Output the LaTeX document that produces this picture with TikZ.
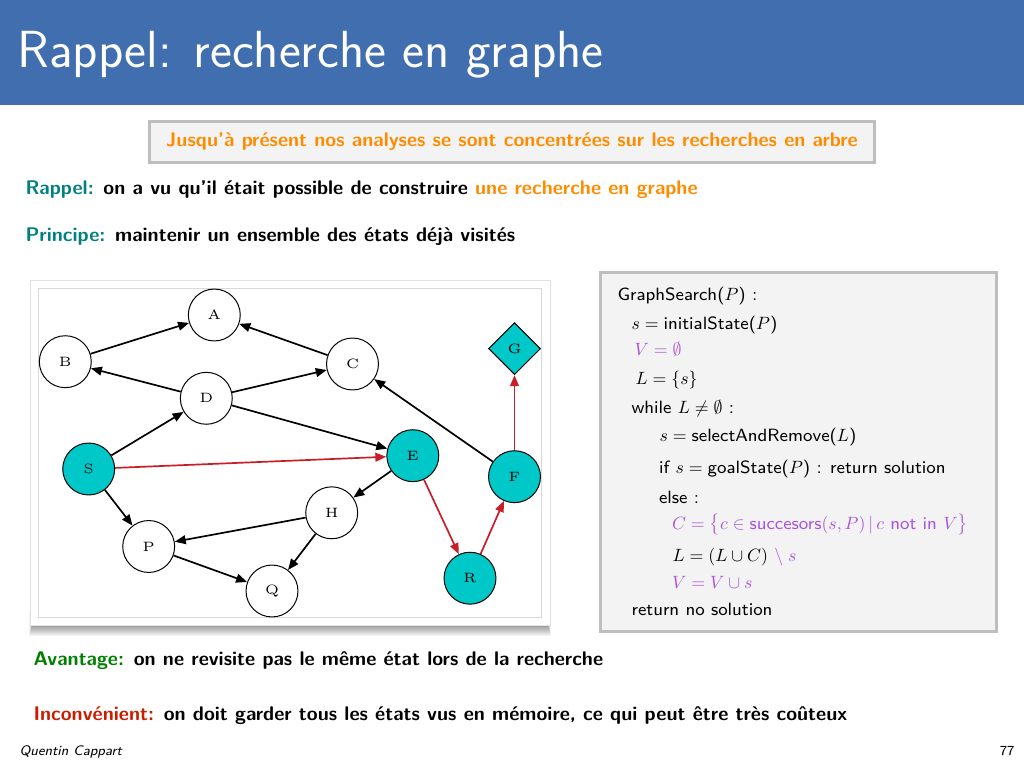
\documentclass[tikz,border=0pt]{standalone}
\usepackage{amsmath}
\usetikzlibrary{arrows.meta,shapes.geometric}

% math glyphs: use the 10pt designs at every size
\DeclareFontShape{OML}{cmm}{m}{it}{<-> cmmi10}{}
\DeclareFontShape{OMS}{cmsy}{m}{n}{<-> cmsy10}{}
\DeclareFontShape{OMX}{cmex}{m}{n}{<-> cmex10}{}
\DeclareFontShape{OT1}{cmr}{m}{n}{<-> cmr10}{}

\definecolor{titleblue}{RGB}{64,110,174}
\definecolor{hlorange}{RGB}{255,140,0}
\definecolor{hlteal}{RGB}{0,128,128}
\definecolor{hlgreen}{RGB}{0,128,0}
\definecolor{hlred}{RGB}{200,30,0}
\definecolor{hlpurple}{RGB}{170,85,220}
\definecolor{nodecyan}{RGB}{0,200,200}
\definecolor{edgered}{RGB}{200,30,40}
\definecolor{panelfill}{RGB}{243,243,243}
\definecolor{panelline}{RGB}{190,190,190}

\tikzset{
  textline/.style={anchor=base west, inner sep=0pt},
  bodytext/.style={textline, font=\fontsize{7.0}{9}\sffamily\bfseries},
  algotext/.style={textline, font=\fontsize{6.3}{8}\sffamily},
  state/.style={circle, draw, line width=0.35pt, minimum size=18.4pt, inner sep=0pt,
    font=\fontsize{4.8}{5}\rmfamily},
  visited/.style={state, fill=nodecyan},
  goal/.style={diamond, draw, line width=0.35pt, fill=nodecyan, aspect=1,
    minimum width=18.4pt, minimum height=18.4pt, inner sep=0pt, font=\fontsize{4.8}{5}\rmfamily},
  link/.style={line width=0.6pt, -{Triangle[length=3.9pt,width=3.1pt]}},
  pathlink/.style={link, draw=edgered, color=edgered},
}

\begin{document}
\begin{tikzpicture}[x=0.35433pt, y=-0.35433pt]
\useasboundingbox (0,0) rectangle (1024,768);

% header band
\fill[titleblue] (0,0) rectangle (1024,105);
\node[textline, text=white, font=\fontsize{18.5}{21}\sffamily] (title) at (17,68)
  {Rappel: recherche en graphe};

% framed remark
\node[draw=panelline, line width=1.06pt, fill=panelfill, minimum width=257pt,
  minimum height=14.5pt, inner sep=0pt, text=hlorange, font=\fontsize{7.0}{9}\sffamily\bfseries]
  (remark) at (512,142) {Jusqu'\`a pr\'esent nos analyses se sont concentr\'ees sur les recherches en arbre};

\node[bodytext] (rappel) at (25,195)
  {\textcolor{hlteal}{Rappel:} on a vu qu'il \'etait possible de construire \textcolor{hlorange}{une recherche en graphe}};
\node[bodytext] (principe) at (25,242)
  {\textcolor{hlteal}{Principe:} maintenir un ensemble des \'etats d\'ej\`a visit\'es};

% picture frame with drop shadow
\foreach \k in {1,...,10}
  \fill[black, opacity=0.045] (29+0.3*\k,612) rectangle (551-0.3*\k,637-\k);
\draw[black!12, fill=white, line width=0.35pt] (30,280) rectangle (550,625);
\draw[black!15, line width=0.35pt] (38,288) rectangle (541,617);

% state graph
\node[state]   (A) at (214.3,315) {A};
\node[state]   (B) at (65.3,361.7) {B};
\node[state]   (C) at (352.5,364) {C};
\node[state]   (D) at (206.3,398.3) {D};
\node[visited] (S) at (88.7,469) {S};
\node[visited] (E) at (412.8,455.7) {E};
\node[goal]    (G) at (514.5,348.7) {G};
\node[visited] (F) at (514.5,476.7) {F};
\node[state]   (H) at (331.7,512.8) {H};
\node[state]   (P) at (148.7,546.5) {P};
\node[state]   (Q) at (272,591) {Q};
\node[visited] (R) at (470,578.2) {R};

\draw[link] (B) -- (A);
\draw[link] (C) -- (A);
\draw[link] (D) -- (B);
\draw[link] (D) -- (C);
\draw[link] (D) -- (E);
\draw[link] (S) -- (D);
\draw[link] (S) -- (P);
\draw[link] (F) -- (C);
\draw[link] (E) -- (H);
\draw[link] (H) -- (P);
\draw[link] (H) -- (Q);
\draw[link] (P) -- (Q);
\draw[pathlink] (S) -- (E);
\draw[pathlink] (E) -- (R);
\draw[pathlink] (R) -- (F);
\draw[pathlink] (F) -- (G);

% algorithm panel
\draw[draw=panelline, fill=panelfill, line width=1.06pt] (600.5,272.8) rectangle (996.8,631.8);
\node[algotext] (l1) at (617,301) {GraphSearch($P$) :};
\node[algotext] (l2) at (631,330) {$s = {}$initialState($P$)};
\node[algotext, text=hlpurple] (l3) at (634,355.5) {$V = \emptyset$};
\node[algotext] (l4) at (635,385) {$L = \{s\}$};
\node[algotext] (l5) at (631,414) {while $L \neq \emptyset$ :};
\node[algotext] (l6) at (659,442) {$s = {}$selectAndRemove($L$)};
\node[algotext] (l7) at (658.5,473.5) {if $s = {}$goalState($P$) : return solution};
\node[algotext] (l8) at (658.5,503.5) {else :};
\node[algotext, text=hlpurple] (l9) at (671.5,529)
  {$C = \bigl\{c \in \mbox{succesors}(s,P)\,|\,c\mbox{ not in }V\bigr\}$};
\node[algotext] (l10) at (672,561.5) {$L = (L \cup C)$ \textcolor{hlpurple}{$\setminus\; s$}};
\node[algotext, text=hlpurple] (l11) at (671.5,588.5) {$V = V \cup s$};
\node[algotext] (l12) at (631,615.5) {return no solution};

% advantages and drawbacks
\node[bodytext] (avantage) at (33,665)
  {\textcolor{hlgreen}{Avantage:} on ne revisite pas le m\^eme \'etat lors de la recherche};
\node[bodytext] (inconv) at (33,720)
  {\textcolor{hlred}{Inconv\'enient:} on doit garder tous les \'etats vus en m\'emoire, ce qui peut \^etre tr\`es co\^uteux};

% footline
\node[textline, font=\fontsize{4.9}{6}\sffamily\itshape] (author) at (19,755) {Quentin Cappart};
\node[anchor=base east, inner sep=0pt, font=\fontsize{4.9}{6}\sffamily] (page) at (1015,755) {77};
\end{tikzpicture}
\end{document}
